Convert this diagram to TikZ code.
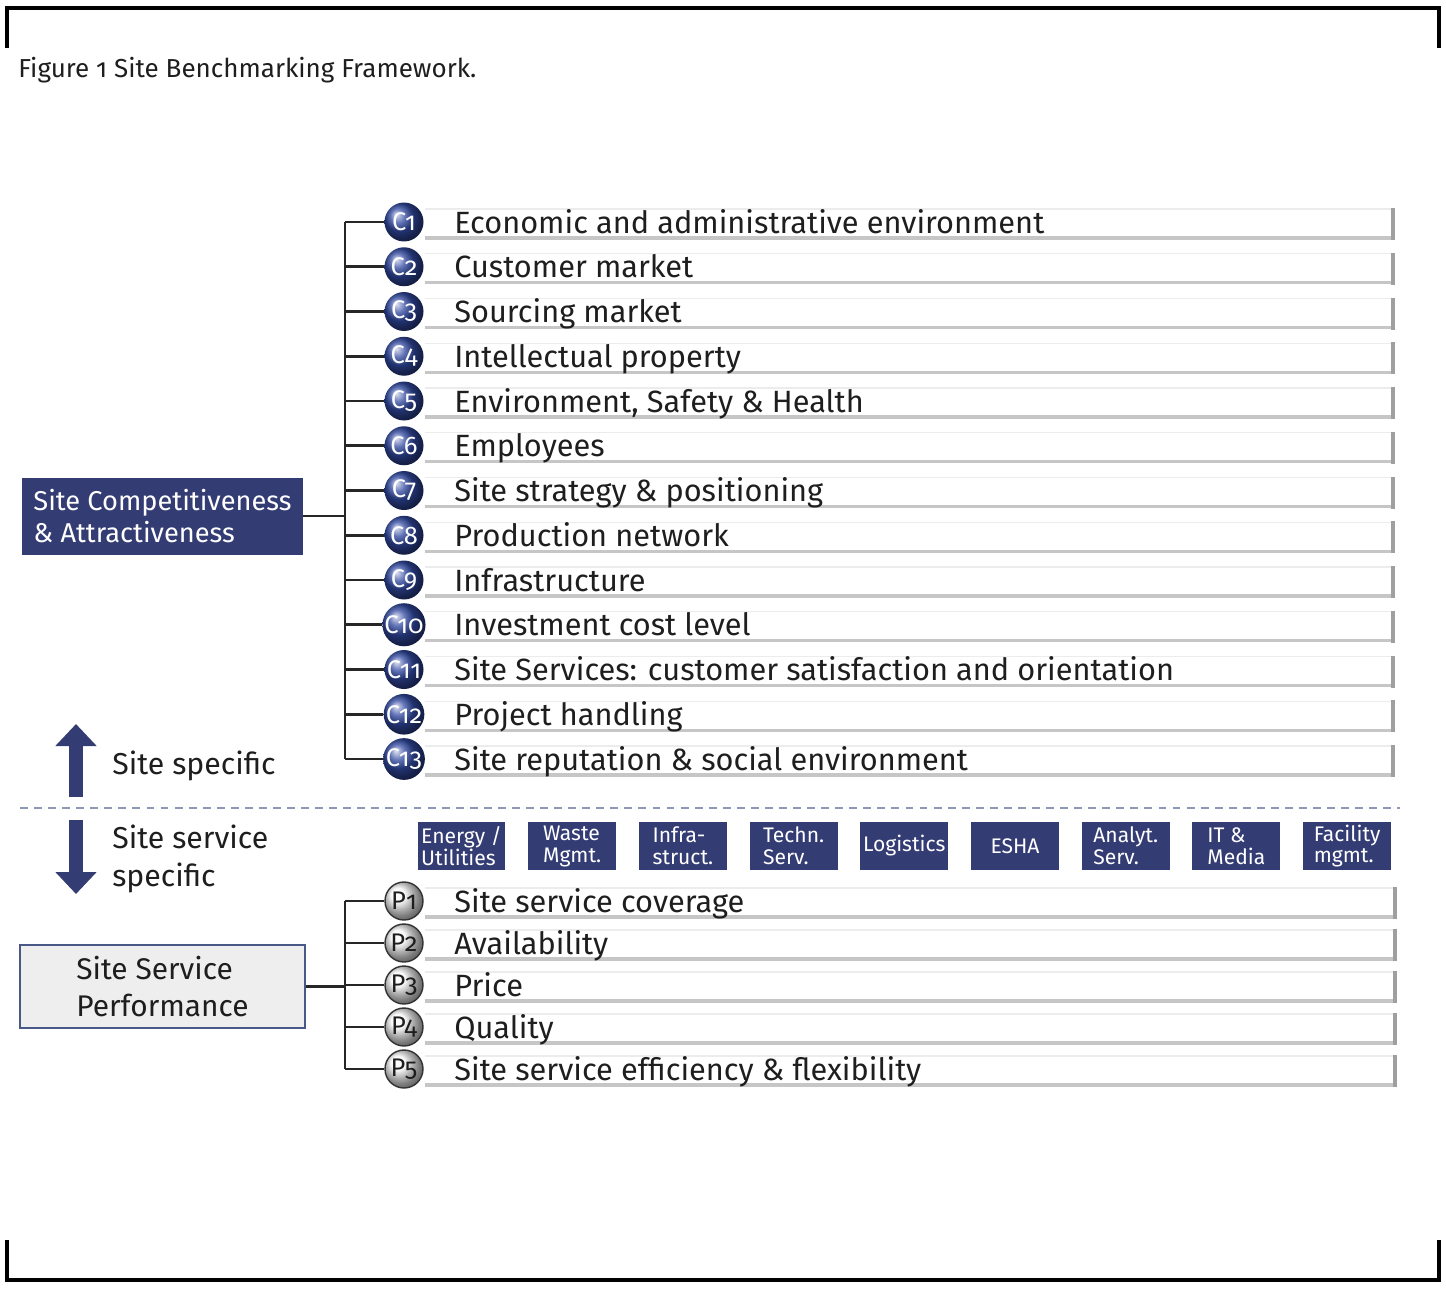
\documentclass[tikz,border=0pt]{standalone}
\usepackage{fontspec}
\setmainfont{Fira Sans}[Numbers=OldStyle]
\usetikzlibrary{arrows.meta}
\definecolor{sitenavy}{RGB}{52,60,116}
\definecolor{ballblue}{RGB}{48,72,160}
\definecolor{dashgrey}{RGB}{140,152,182}
\definecolor{perfedge}{RGB}{74,88,136}
\definecolor{inkgrey}{RGB}{30,30,30}
\begin{document}
\begin{tikzpicture}[x=0.02cm,y=-0.02cm,
	cball/.style={circle, inner sep=0pt, minimum size=0.78cm, ball color=ballblue, text=white, font=\fontsize{14.5}{14.5}\selectfont},
	pball/.style={circle, draw=black!80, line width=0.8pt, inner sep=0pt, minimum size=0.76cm, ball color=gray!6, text=inkgrey, font=\fontsize{14.5}{14.5}\selectfont},
	rowtext/.style={anchor=base west, inner sep=0pt, text=inkgrey, font=\fontsize{17.5}{17.5}\selectfont},
	servbox/.style={fill=sitenavy, text=white, minimum width=1.76cm, minimum height=0.96cm, inner sep=1pt, align=left, font=\fontsize{12}{12.5}\selectfont},
	bracket/.style={line width=1.5pt, black!85},
	bartop/.style={gray!15, line width=0.6pt},
	barbottom/.style={gray!45, line width=1.8pt},
	barend/.style={gray!75, line width=2pt},
	bigarrow/.style={sitenavy, line width=0.3cm, -{Triangle[width=0.8cm,length=0.44cm]}}]
	\useasboundingbox (0,0) rectangle (1446,1288);
	\draw[line width=2.8pt] (7,48) -- (7,8) -- (1439,8) -- (1439,48);
	\draw[line width=2.8pt] (7,1240) -- (7,1280) -- (1439,1280) -- (1439,1240);
	\node[anchor=base west, inner sep=0pt, text=inkgrey, font=\fontsize{14.8}{14.8}\selectfont] (title) at (18,77) {Figure 1 Site Benchmarking Framework.};
	\foreach \t [count=\i] in {Economic and administrative environment, Customer market, Sourcing market, Intellectual property, {Environment, Safety \& Health}, Employees, Site strategy \& positioning, Production network, Infrastructure, Investment cost level, Site Services: customer satisfaction and orientation, Project handling, Site reputation \& social environment} {
		\pgfmathsetmacro\y{222+44.75*(\i-1)}
		\draw[bartop] (425,\y-13) -- (1393,\y-13);
		\draw[barbottom] (425,\y+16) -- (1393,\y+16);
		\draw[barend] (1393,\y-14) -- (1393,\y+18);
		\node[cball] (c\i) at (404,\y) {C\i};
		\node[rowtext] (lc\i) at (454,\y+11) {\t};
	}
	\node[fill=sitenavy, text=white, align=left, minimum width=5.62cm, minimum height=1.54cm, font=\fontsize{15.5}{18}\selectfont] (comp) at (162.5,516) {Site Competitiveness\\\& Attractiveness};
	\coordinate (cspine) at (345,0);
	\draw[bracket] (cspine |- c1) -- (cspine |- c13);
	\foreach \i in {1,...,13}
		\draw[bracket] (cspine |- c\i) -- (c\i.west);
	\draw[bracket] (comp.east) -- (cspine |- comp.east);
	\coordinate (upfoot) at (76,797);
	\coordinate (uptip) at (76,724);
	\coordinate (downfoot) at (76,820);
	\coordinate (downtip) at (76,894);
	\draw[bigarrow] (upfoot) -- (uptip);
	\draw[bigarrow] (downfoot) -- (downtip);
	\node[anchor=base west, inner sep=0pt, text=inkgrey, font=\fontsize{17.2}{17.2}\selectfont] (sitespec) at (112,774) {Site specific};
	\node[anchor=north west, inner sep=0pt, align=left, text=inkgrey, font=\fontsize{17.2}{21.5}\selectfont] (servspec) at (112,825) {Site service\\specific};
	\coordinate (dashleft) at (20,808);
	\coordinate (dashright) at (1400,808);
	\draw[dashgrey, line width=1.6pt, dash pattern=on 4.5pt off 3.5pt] (dashleft) -- (dashright);
	\foreach \s [count=\i] in {{Energy /\\Utilities}, {Waste\\Mgmt.}, {Infra-\\struct.}, {Techn.\\Serv.}, Logistics, ESHA, {Analyt.\\Serv.}, {IT \&\\Media}, {Facility\\mgmt.}} {
		\pgfmathsetmacro\x{461.5+110.7*(\i-1)}
		\node[servbox] (s\i) at (\x,846) {\s};
	}
	\foreach \t [count=\i] in {Site service coverage, Availability, Price, Quality, Site service efficiency \& flexibility} {
		\pgfmathsetmacro\y{901+42*(\i-1)}
		\draw[bartop] (425,\y-13) -- (1395,\y-13);
		\draw[barbottom] (425,\y+16) -- (1395,\y+16);
		\draw[barend] (1395,\y-14) -- (1395,\y+18);
		\node[pball] (p\i) at (404,\y) {P\i};
		\node[rowtext] (lp\i) at (454,\y+11) {\t};
	}
	\node[fill=gray!13, draw=perfedge, line width=1.6pt, text=inkgrey, align=left, minimum width=5.7cm, minimum height=1.66cm, font=\fontsize{17}{21.5}\selectfont] (perf) at (162.5,986.5) {Site Service\\Performance};
	\coordinate (pspine) at (345,0);
	\draw[bracket] (pspine |- p1) -- (pspine |- p5);
	\foreach \i in {1,...,5}
		\draw[bracket] (pspine |- p\i) -- (p\i.west);
	\draw[bracket] (perf.east) -- (pspine |- perf.east);
\end{tikzpicture}
\end{document}
